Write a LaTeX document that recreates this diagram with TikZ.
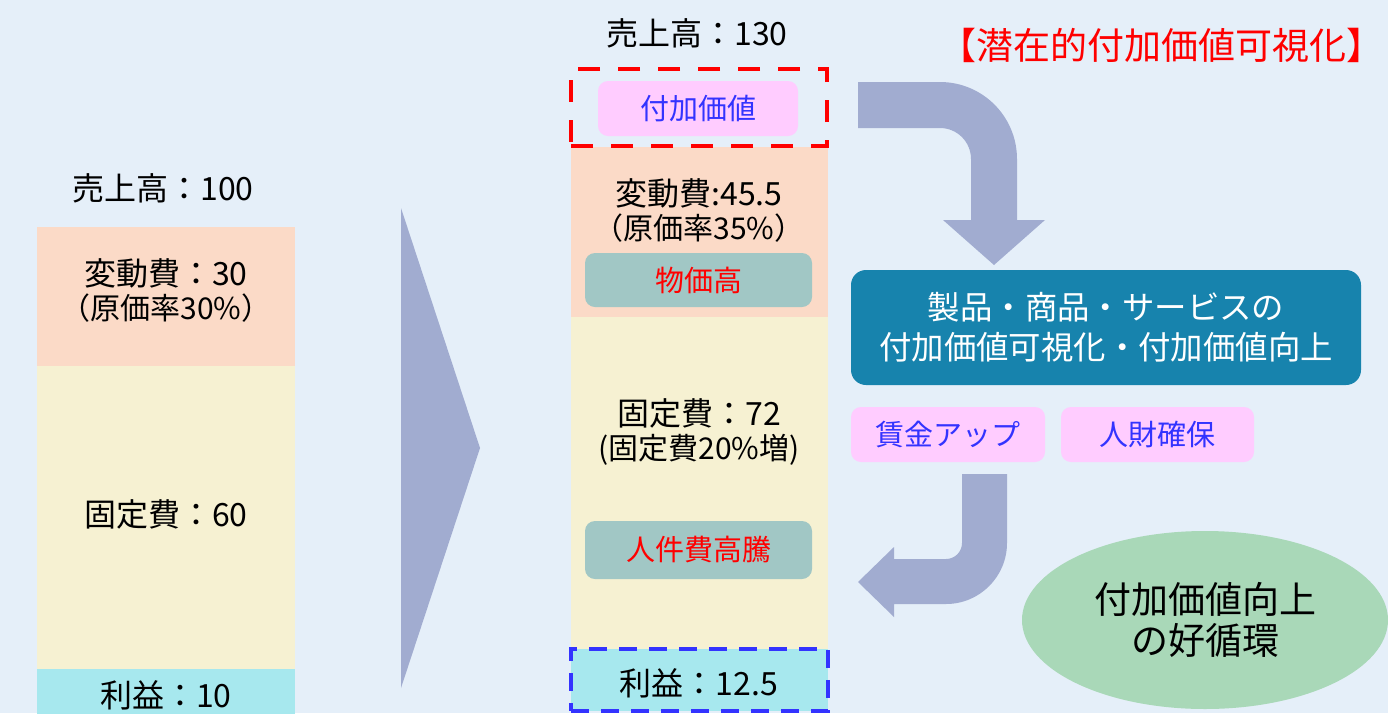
\documentclass[tikz,border=0pt]{standalone}
\usepackage{xcolor}
\usepackage{fontspec}
\setmainfont{Noto Sans CJK JP}
\usepackage{tikz}
\usetikzlibrary{shapes.geometric, positioning}

\definecolor{bgblue}{RGB}{229,239,249}
\definecolor{varcost}{RGB}{251,218,199}
\definecolor{fixcost}{RGB}{246,241,210}
\definecolor{profitcyan}{RGB}{167,232,238}
\definecolor{arrowgray}{RGB}{161,172,208}
\definecolor{tagpink}{RGB}{255,204,255}
\definecolor{tagblue}{RGB}{51,51,255}
\definecolor{riskgray}{RGB}{161,199,197}
\definecolor{valueteal}{RGB}{23,131,173}
\definecolor{loopgreen}{RGB}{169,216,184}

\begin{document}
\begin{tikzpicture}[
    x=0.5pt, y=0.5pt,
    node distance=0pt,
    bar/.style={
        rectangle,
        inner sep=0pt, outer sep=0pt,
        text centered, align=center
    },
    lbl/.style={
        inner sep=0pt, align=center,
        font=\fontsize{16}{19}\selectfont
    },
    sublbl/.style={
        inner sep=0pt, align=center,
        font=\fontsize{15}{18}\selectfont
    },
    tag/.style={
        rectangle, rounded corners=5pt,
        inner sep=0pt,
        fill=tagpink, text=tagblue,
        minimum height=27.5pt,
        font=\fontsize{14.5}{17}\selectfont
    },
    risk/.style={
        rectangle, rounded corners=5pt,
        inner sep=0pt,
        fill=riskgray, text=red,
        minimum width=113.5pt,
        font=\fontsize{14.5}{17}\selectfont
    },
    bigarrow/.style={fill=arrowgray}
]

% Background
\fill[bgblue] (0,0) rectangle (1388,-713);
\useasboundingbox (0,0) rectangle (1388,-713);

% Before: sales 100
\node [bar, fill=varcost, minimum width=129pt, minimum height=69.5pt] (lvar) at (166,-296.5) {};
\node [bar, fill=fixcost, minimum width=129pt, minimum height=151.5pt, below=of lvar] (lfix) {};
\node [bar, fill=profitcyan, minimum width=129pt, minimum height=26pt, below=of lfix] (lprof) {};

\node [lbl] (lsales) at (163,-188) {売上高：100};
\node [lbl] (lvartxt) at (166,-273) {変動費：30};
\node [sublbl] (lrate) at (166,-308) {（原価率30\%）};
\node [lbl] (lfixtxt) at (166,-514) {固定費：60};
\node [lbl] (lproftxt) at (166,-695) {利益：10};

% Shift
\fill[bigarrow] (401,-208) -- (480,-448) -- (401,-688) -- cycle;

% After: sales 130
\node [bar, fill=varcost, minimum width=128.5pt, minimum height=85pt] (mvar) at (699.5,-232) {};
\node [bar, fill=fixcost, minimum width=128.5pt, minimum height=166pt, below=of mvar] (mfix) {};
\node [bar, fill=profitcyan, minimum width=128.5pt, minimum height=31pt, below=of mfix,
       draw=tagblue, line width=2pt, dash pattern=on 9pt off 6pt] (mprof) {};

\node [lbl] (msales) at (697,-33) {売上高：130};
\node [draw=red, line width=2.25pt, dash pattern=on 11pt off 9pt,
       minimum width=128pt, minimum height=38.5pt, inner sep=0pt] (valueframe) at (699,-107.5) {};
\node [tag, minimum width=100pt] (addval) at (698,-108.5) {付加価値};

\node [lbl] (mvartxt) at (699,-193) {変動費:45.5};
\node [sublbl] (mrate) at (699,-228) {（原価率35\%）};
\node [risk, minimum height=27pt] (prices) at (698.5,-280) {物価高};

\node [lbl] (mfixtxt) at (699,-413) {固定費：72};
\node [sublbl] (mfixup) at (699,-450) {(固定費20\%増)};
\node [risk, minimum height=29pt] (labor) at (698.5,-550) {人件費高騰};

\node [lbl] (mproftxt) at (699,-683) {利益：12.5};

% Right side
\node [text=red, inner sep=0pt, font=\fontsize{18.5}{22}\selectfont] (title) at (1161,-45) {【潜在的付加価値可視化】};

\fill[bigarrow] (858,-82) -- (940,-82) arc[start angle=90, end angle=0, radius=77]
    -- (1017,-220) -- (1045,-220) -- (994,-265) -- (943,-220) -- (971,-220)
    -- (971,-159) arc[start angle=0, end angle=90, radius=31] -- (858,-128) -- cycle;

\node [rectangle, rounded corners=7.5pt, fill=valueteal, text=white, inner sep=0pt,
       minimum width=255pt, minimum height=57.5pt, align=center,
       font=\fontsize{16.2}{20}\selectfont] (valuebox) at (1106,-327.5)
      {製品・商品・サービスの\\付加価値可視化・付加価値向上};

\node [tag, minimum width=97pt] (wage) at (948,-434.5) {賃金アップ};
\node [tag, minimum width=96.5pt] (talent) at (1157.5,-434.5) {人財確保};

\fill[bigarrow] (962,-474) -- (1007,-474) -- (1007,-543)
    arc[start angle=0, end angle=-90, radius=61]
    -- (894,-604) -- (894,-617) -- (858,-582) -- (894,-547) -- (894,-559) -- (946,-559)
    arc[start angle=-90, end angle=0, radius=16] -- cycle;

\node [ellipse, fill=loopgreen, inner sep=0pt, minimum width=183pt, minimum height=89pt,
       align=center, font=\fontsize{18.5}{20.5}\selectfont] (loop) at (1205,-620)
      {付加価値向上\\の好循環};

\end{tikzpicture}
\end{document}
